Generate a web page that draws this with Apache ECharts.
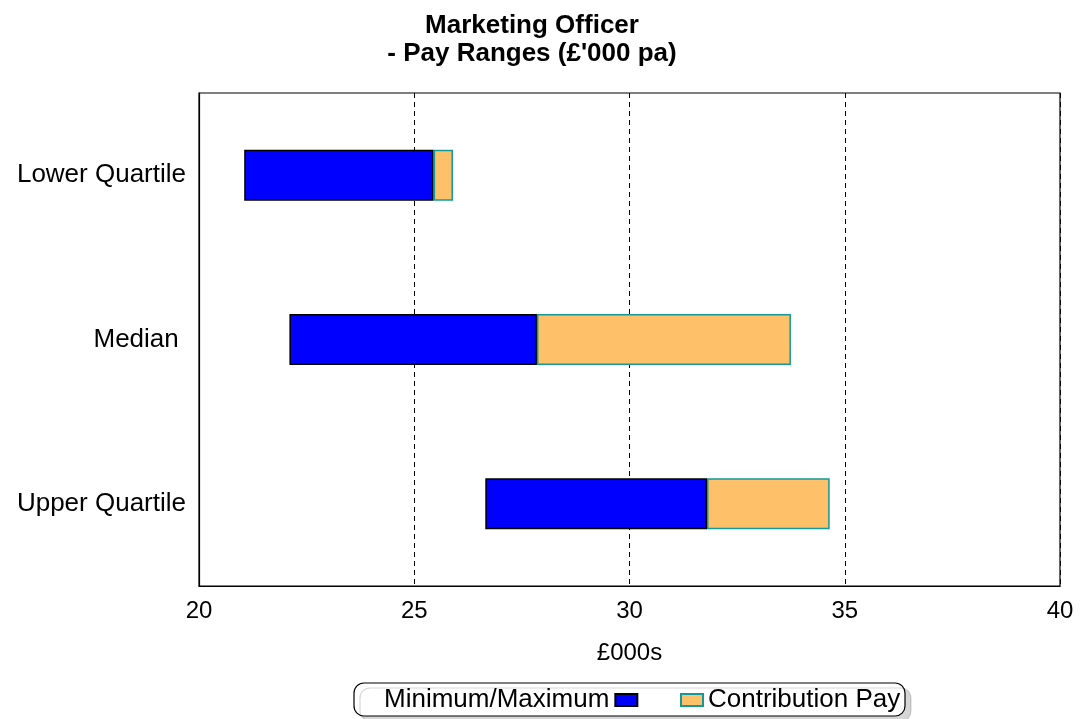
<!DOCTYPE html>
<html>
<head>
<meta charset="utf-8">
<script src="https://cdn.jsdelivr.net/npm/echarts@6/dist/echarts.min.js"></script>
<style>
  html, body { margin: 0; padding: 0; background: #fff; }
  #chart { width: 1081px; height: 719px; }
</style>
</head>
<body>
<div id="chart"></div>
<script>
// Pay ranges in £'000 per annum
const categories = ['Lower Quartile', 'Median ', 'Upper Quartile'];
const minimumPay = [21.05, 22.1, 26.65];
const maximumPay = [25.45, 27.85, 31.8];
const contributionTop = [25.9, 33.75, 34.65];
const xTicks = [20, 25, 30, 35, 40];

const FONT = '"Liberation Sans", Arial, sans-serif';
const BLUE = '#0000ff';
const ORANGE = '#ffc06a';
const TEAL = '#129a9a';

// stacked segment lengths: min -> max (blue), max -> contribution top (orange)
const bandBlue = maximumPay.map((v, i) => +(v - minimumPay[i]).toFixed(3));
const bandOrange = contributionTop.map((v, i) => +(v - maximumPay[i]).toFixed(3));

const chart = echarts.init(document.getElementById('chart'), null, { renderer: 'canvas' });

const legendText = { fontFamily: FONT, fontSize: 26, color: '#000' };

chart.setOption({
  animation: false,
  backgroundColor: '#ffffff',
  title: {
    text: 'Marketing Officer\n- Pay Ranges (£\'000 pa)',
    left: 527,
    textAlign: 'center',
    top: 7,
    textStyle: { fontFamily: FONT, fontSize: 26, fontWeight: 'bold', color: '#000', lineHeight: 28 }
  },
  grid: {
    left: 199, right: 21, top: 93, bottom: 133,
    show: true, borderColor: '#000', borderWidth: 1.2, backgroundColor: 'transparent'
  },
  graphic: [{
    type: 'rect',
    shape: { x: 354, y: 683, width: 551, height: 33, r: 10 },
    style: { fill: '#fff', stroke: '#000', lineWidth: 1.2, shadowColor: 'rgba(0,0,0,0.16)', shadowOffsetX: 6, shadowOffsetY: 5 },
    z: 0
  }],
  legend: [{
    data: ['Minimum/Maximum'],
    left: 384, top: 687,
    padding: 0,
    align: 'right',
    icon: 'rect',
    itemWidth: 22, itemHeight: 12,
    textStyle: Object.assign({ padding: [0, 1, 0, 0] }, legendText),
    z: 5
  }, {
    data: ['Contribution Pay'],
    left: 680, top: 687,
    padding: 0,
    align: 'left',
    icon: 'rect',
    itemWidth: 22, itemHeight: 12,
    textStyle: Object.assign({ padding: [0, 0, 0, 0] }, legendText),
    z: 5
  }],
  xAxis: {
    type: 'value',
    min: 20, max: 40, interval: 5,
    name: '£000s',
    nameLocation: 'middle',
    nameGap: 55,
    nameTextStyle: { fontFamily: FONT, fontSize: 24, color: '#000' },
    axisLine: { show: true, lineStyle: { color: '#000', width: 1.2 } },
    axisTick: { show: false },
    axisLabel: {
      fontFamily: FONT, fontSize: 24, color: '#000', margin: 13,
      formatter: v => xTicks.includes(v) ? String(v) : ''
    },
    splitLine: { show: true, lineStyle: { color: '#000', type: [5, 4], width: 1 } }
  },
  yAxis: {
    type: 'category',
    data: categories,
    inverse: true,
    axisLine: { show: true, lineStyle: { color: '#000', width: 1.2 } },
    axisTick: { show: false },
    axisLabel: { fontFamily: FONT, fontSize: 26, color: '#000', margin: 13 }
  },
  series: [{
    name: 'base',
    type: 'bar',
    stack: 'pay',
    data: minimumPay,
    barWidth: '31%',
    itemStyle: { color: 'transparent' },
    emphasis: { disabled: true },
    silent: true
  }, {
    name: 'Minimum/Maximum',
    type: 'bar',
    stack: 'pay',
    data: bandBlue,
    barWidth: '31%',
    itemStyle: { color: BLUE, borderColor: '#000', borderWidth: 1.5 }
  }, {
    name: 'Contribution Pay',
    type: 'bar',
    stack: 'pay',
    data: bandOrange,
    barWidth: '31%',
    itemStyle: { color: ORANGE, borderColor: TEAL, borderWidth: 1.5 }
  }]
});
</script>
</body>
</html>
